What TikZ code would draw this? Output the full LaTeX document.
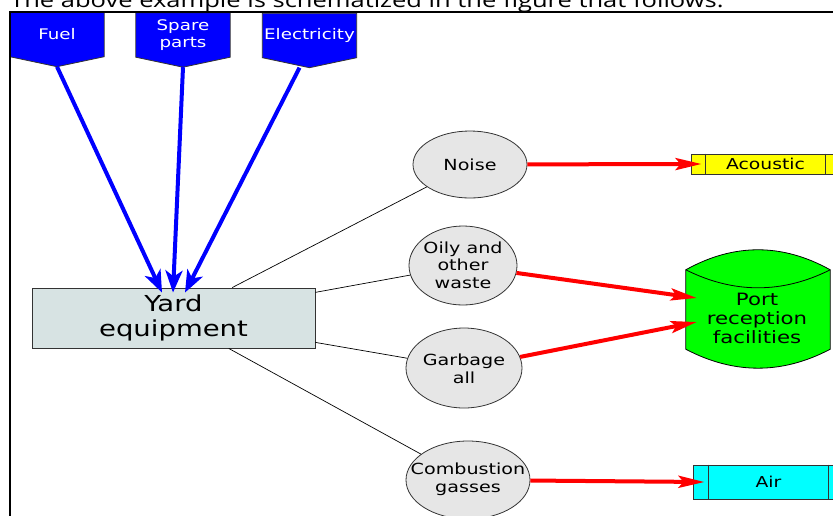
\documentclass[tikz,border=0pt]{standalone}
\usepackage{fontspec}
\newfontfamily\diagfont[FakeStretch=1.25]{DejaVu Sans}
\newfontfamily\capfont[FakeStretch=1.25]{Open Sans}
\usetikzlibrary{arrows.meta,shapes.geometric,backgrounds}

\definecolor{yardfill}{HTML}{D7E3E3}
\definecolor{blobfill}{HTML}{E6E6E6}
\definecolor{edgegray}{HTML}{333333}
\definecolor{srcblue}{HTML}{0000FF}
\definecolor{emitred}{HTML}{FF0000}
\definecolor{acousticfill}{HTML}{FFFF00}
\definecolor{airfill}{HTML}{00FFFF}
\definecolor{portfill}{HTML}{00FF00}

\begin{document}
\begin{tikzpicture}[x=1pt,y=-1pt,
  txt/.style 2 args={font=\diagfont\fontsize{#1}{#2}\selectfont, align=center, inner sep=0pt},
  source/.style={txt={14.6}{17}, text=white, minimum width=94pt, minimum height=44pt},
  sourceshape/.style={fill=srcblue, draw=edgegray, line width=0.8pt},
  blob/.style={ellipse, draw=edgegray, fill=blobfill, line width=0.8pt, inner sep=0pt},
  blobtext/.style={txt={15.3}{17.7}},
  sink/.style={rectangle, draw=edgegray, line width=0.9pt, txt={15}{17.5}},
  feed/.style={draw=srcblue, line width=4pt, -{Stealth[length=22pt,width=17pt,inset=6pt]}},
  emit/.style={draw=emitred, line width=4pt, -{Stealth[length=26pt,width=12pt,inset=5pt]}},
  link/.style={draw=black, line width=0.7pt}]
\useasboundingbox (0,0) rectangle (833,515);

% caption line above the frame
\node[anchor=base west, font=\capfont\fontsize{20.4}{22}\selectfont, inner sep=0pt]
  (caption) at (10,7) {The above example is schematized in the figure that follows:};

% input sources
\node[source] (fuel) at (57,34.5) {Fuel};
\node[source] (spare) at (183,35) {Spare\\parts};
\node[source] (elec) at (309.5,35.5) {Electricity};
\begin{scope}[on background layer]
  \foreach \s in {fuel,spare,elec}{
    \draw[sourceshape] (\s.north west) -- (\s.north east) -- (\s.south east)
      -- ([yshift=-10pt]\s.south) -- (\s.south west) -- cycle;
  }
\end{scope}
\coordinate (fueltip) at ([yshift=-10pt]fuel.south);
\coordinate (sparetip) at ([yshift=-10pt]spare.south);
\coordinate (electip) at ([xshift=-10pt,yshift=-10pt]elec.south);

% central equipment block
\node[rectangle, draw=edgegray, fill=yardfill, line width=0.9pt,
  minimum width=283pt, minimum height=60pt,
  font=\diagfont\fontsize{22}{25}\selectfont, align=center] (yard) at (173.5,318)
  {Yard\\equipment};

% emissions: the ellipses, then their labels
\node[blob, minimum width=114pt, minimum height=67pt] (noise) at (470,164.5) {};
\node[blob, minimum width=108pt, minimum height=79pt] (oily) at (463,265.5) {};
\node[blob, minimum width=116pt, minimum height=80pt] (garbage) at (464,368) {};
\node[blob, minimum width=124pt, minimum height=78pt] (comb) at (468,480) {};
\node[blobtext] (noiselbl) at (noise) {Noise};
\node[blobtext] (oilylbl) at ([yshift=0.5pt]oily) {Oily and\\other\\waste};
\node[blobtext] (garbagelbl) at ([yshift=-1pt]garbage) {Garbage\\all};
\node[blobtext] (comblbl) at ([yshift=1pt]comb) {Combustion\\gasses};

% receptors
\node[sink, fill=acousticfill, minimum width=149pt, minimum height=20pt] (acoustic) at (765.5,164) {Acoustic};
\draw[edgegray, line width=0.9pt] ([xshift=15pt]acoustic.north west) -- ([xshift=15pt]acoustic.south west);
\draw[edgegray, line width=0.9pt] ([xshift=-15pt]acoustic.north east) -- ([xshift=-15pt]acoustic.south east);

\node[sink, fill=airfill, minimum width=151pt, minimum height=34pt] (air) at (768.5,482) {Air};
\draw[edgegray, line width=0.9pt] ([xshift=16pt]air.north west) -- ([xshift=16pt]air.south west);
\draw[edgegray, line width=0.9pt] ([xshift=-16pt]air.north east) -- ([xshift=-16pt]air.south east);

\node[minimum width=144pt, minimum height=79pt, inner sep=0pt] (port) at (758,309.5) {};
\node[txt={17}{19}] (portlbl) at (757,318.5) {Port\\reception\\facilities};
\begin{scope}[on background layer]
  \fill[portfill] (port.north west) .. controls +(48,-26.7) and +(-48,-26.7) .. (port.north east)
    -- (port.south east) .. controls +(-48,25.3) and +(48,25.3) .. (port.south west) -- cycle;
  \draw[black, line width=0.8pt] (port.north west) .. controls +(48,-26.7) and +(-48,-26.7) .. (port.north east)
    -- (port.south east) .. controls +(-48,25.3) and +(48,25.3) .. (port.south west) -- cycle;
  \draw[black, line width=0.8pt] (port.north west) .. controls +(48,24) and +(-48,24) .. (port.north east);
\end{scope}

% links from the equipment to its emissions
\draw[link] (yard) -- (noise);
\draw[link] (yard) -- (oily);
\draw[link] (yard) -- (garbage);
\draw[link] (yard) -- (comb);

% supplies into the equipment
\draw[feed] (fueltip) -- ([xshift=-11.5pt,yshift=-5pt]yard.north);
\draw[feed] (sparetip) -- ([xshift=-0.5pt,yshift=-5pt]yard.north);
\draw[feed] (electip) -- ([xshift=11.5pt,yshift=-5pt]yard.north);

% emissions to receptors
\draw[emit] (noise) -- ([xshift=11pt]acoustic.west);
\draw[emit] (oily) -- ([xshift=11pt,yshift=11.5pt]port.west);
\draw[emit] (garbage) -- ([xshift=11pt,yshift=-12.5pt]port.west);
\draw[emit] (comb) -- ([xshift=12pt]air.west);

% outer frame
\draw[black, line width=2pt] (10,12) rectangle (870,560);
\end{tikzpicture}
\end{document}
